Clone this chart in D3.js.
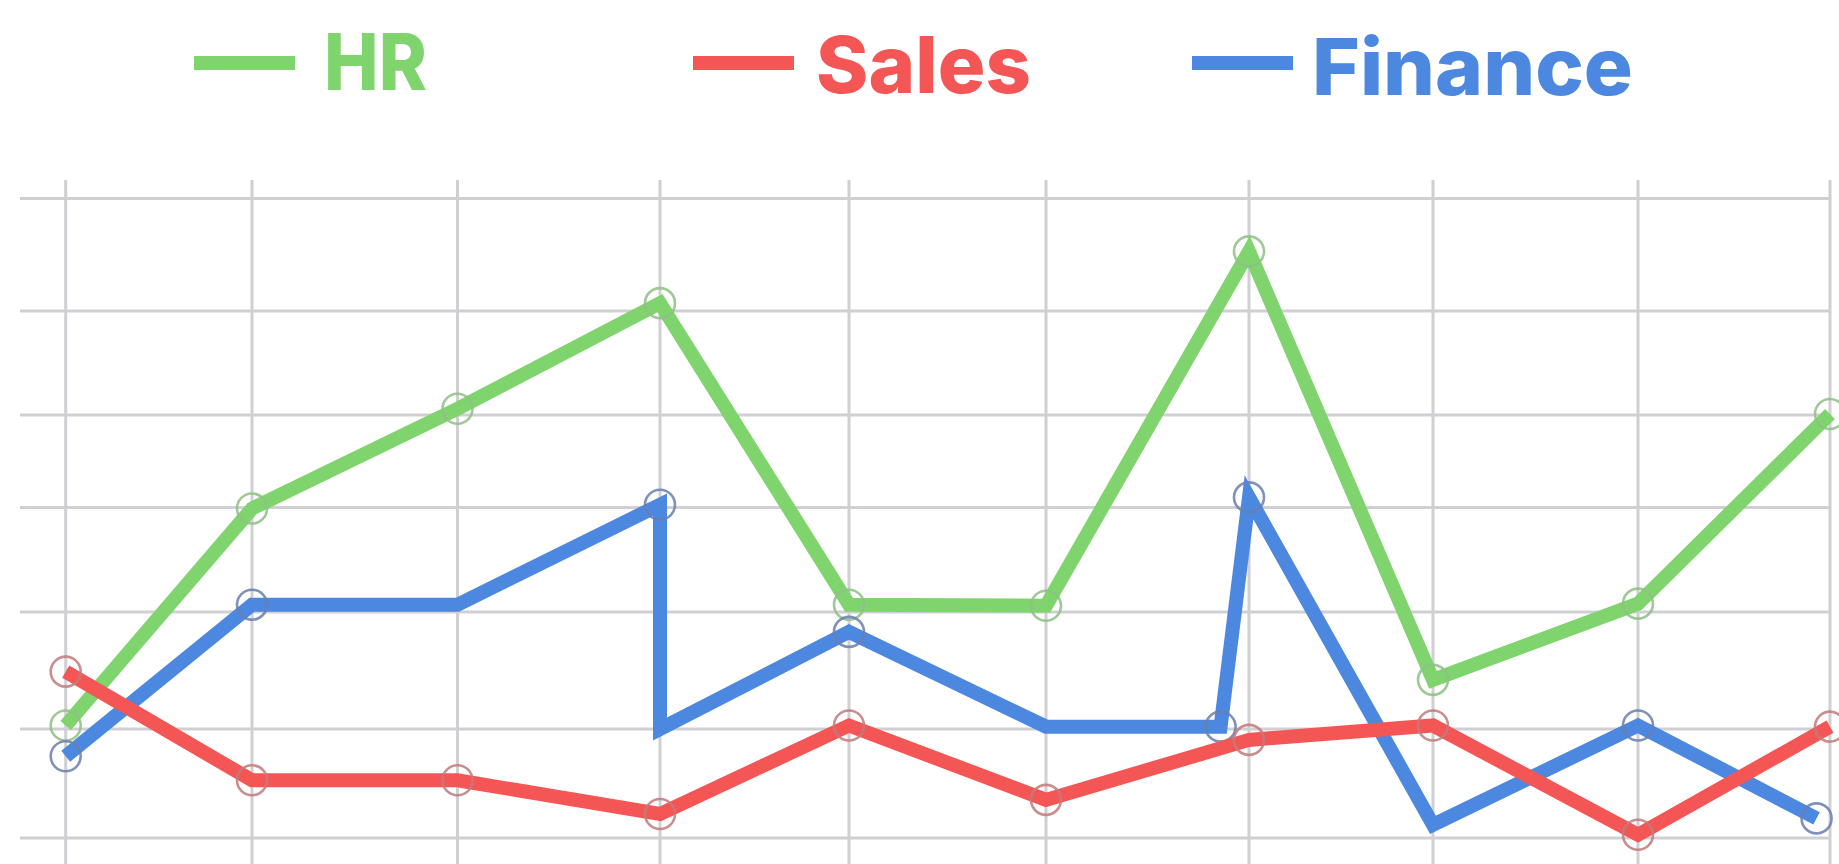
<!DOCTYPE html>
<html>
<head>
<meta charset="utf-8">
<script src="https://cdn.jsdelivr.net/npm/d3@7"></script>
<style>
  html, body { margin: 0; padding: 0; background: #fff; }
  svg { display: block; }
</style>
</head>
<body>
<div id="chart"></div>
<script>
// Data
const seriesNames = ['HR', 'Sales', 'Finance'];
const seriesColors = ['#80d46e', '#f45656', '#4c87e0'];

const hrX = [0, 1, 2, 3, 4, 5, 6, 7, 8, 9];
const hrValues = [10.3, 29.9, 40.6, 50.7, 20.7, 20.6, 55.3, 14.2, 20.8, 40.1];
const hrDots = [1, 1, 1, 1, 1, 1, 1, 1, 1, 1];

const salesX = [0, 1, 2, 3, 4, 5, 6, 7, 8, 9];
const salesValues = [14.9, 5.3, 5.3, 2.2, 10.3, 3.5, 9.0, 10.3, 0.3, 10.2];
const salesDots = [1, 1, 1, 1, 1, 1, 1, 1, 1, 1];

const financeX = [0, 1, 2, 3, 3, 4, 5, 5.86, 6, 7, 8, 8.93];
const financeValues = [7.5, 20.7, 20.7, 30.3, 10, 18.3, 10.2, 10.2, 31.1, 1.2, 10.3, 1.8];
const financeDots = [1, 1, 0, 1, 0, 1, 0, 1, 1, 0, 1, 1];

const yTicks = [0, 10, 20, 30, 40, 50, 60];
const xTicks = [0, 1, 2, 3, 4, 5, 6, 7, 8, 9];

const width = 1839;
const height = 864;

// the grid in the picture is drawn by hand, so both scales are piecewise
const x = d3.scaleLinear()
    .domain(xTicks)
    .range([65.7, 252, 457.5, 660, 849, 1046, 1249, 1433, 1638, 1830]);
const y = d3.scaleLinear()
    .domain(yTicks)
    .range([838, 729, 612, 507.5, 415, 311, 198.5]);

const svg = d3.select('#chart')
    .append('svg')
    .attr('width', width)
    .attr('height', height);

// Grid
const grid = svg.append('g').attr('stroke', '#cfcfd4').attr('stroke-width', 3);

grid.selectAll('line.h')
    .data(yTicks)
    .enter()
    .append('line')
    .attr('class', 'h')
    .attr('x1', 20)
    .attr('x2', x(9))
    .attr('y1', d => y(d))
    .attr('y2', d => y(d));

grid.selectAll('line.v')
    .data(xTicks)
    .enter()
    .append('line')
    .attr('class', 'v')
    .attr('x1', d => x(d))
    .attr('x2', d => x(d))
    .attr('y1', 180)
    .attr('y2', height);

// Series
const series = [
    { name: seriesNames[0], color: seriesColors[0], dot: '#8fbf86', xs: hrX, ys: hrValues, dots: hrDots },
    { name: seriesNames[2], color: seriesColors[2], dot: '#6a7fae', xs: financeX, ys: financeValues, dots: financeDots },
    { name: seriesNames[1], color: seriesColors[1], dot: '#c27a7a', xs: salesX, ys: salesValues, dots: salesDots }
];

const line = d3.line()
    .x(d => x(d[0]))
    .y(d => y(d[1]));

series.forEach(s => {
    const pts = s.xs.map((v, i) => [v, s.ys[i]]);

    svg.append('path')
        .datum(pts)
        .attr('fill', 'none')
        .attr('stroke', s.color)
        .attr('stroke-width', 14)
        .attr('stroke-linejoin', 'miter')
        .attr('stroke-miterlimit', 6)
        .attr('d', line);

    svg.append('g')
        .selectAll('circle')
        .data(pts.filter((p, i) => s.dots[i]))
        .enter()
        .append('circle')
        .attr('cx', d => x(d[0]))
        .attr('cy', d => y(d[1]))
        .attr('r', 15)
        .attr('fill', 'none')
        .attr('stroke', s.dot)
        .attr('stroke-opacity', 0.85)
        .attr('stroke-width', 2.6);
});

// Legend
const legendItems = [
    { name: seriesNames[0], color: seriesColors[0], x: 194, gap: 29, w: 103, base: 90 },
    { name: seriesNames[1], color: seriesColors[1], x: 693, gap: 22, w: 215, base: 92.5 },
    { name: seriesNames[2], color: seriesColors[2], x: 1192, gap: 19, w: 321, base: 95 }
];

const legend = svg.append('g').attr('class', 'legend');

const item = legend.selectAll('g')
    .data(legendItems)
    .enter()
    .append('g');

item.append('rect')
    .attr('x', d => d.x)
    .attr('y', 56)
    .attr('width', 101)
    .attr('height', 14)
    .attr('fill', d => d.color);

item.append('text')
    .attr('x', d => d.x + 101 + d.gap)
    .attr('y', d => d.base)
    .attr('textLength', d => d.w)
    .attr('lengthAdjust', 'spacingAndGlyphs')
    .attr('fill', d => d.color)
    .attr('font-family', 'Inter, Lato, "Open Sans", sans-serif')
    .attr('font-weight', 800)
    .attr('font-size', 79)
    .text(d => d.name);
</script>
</body>
</html>
